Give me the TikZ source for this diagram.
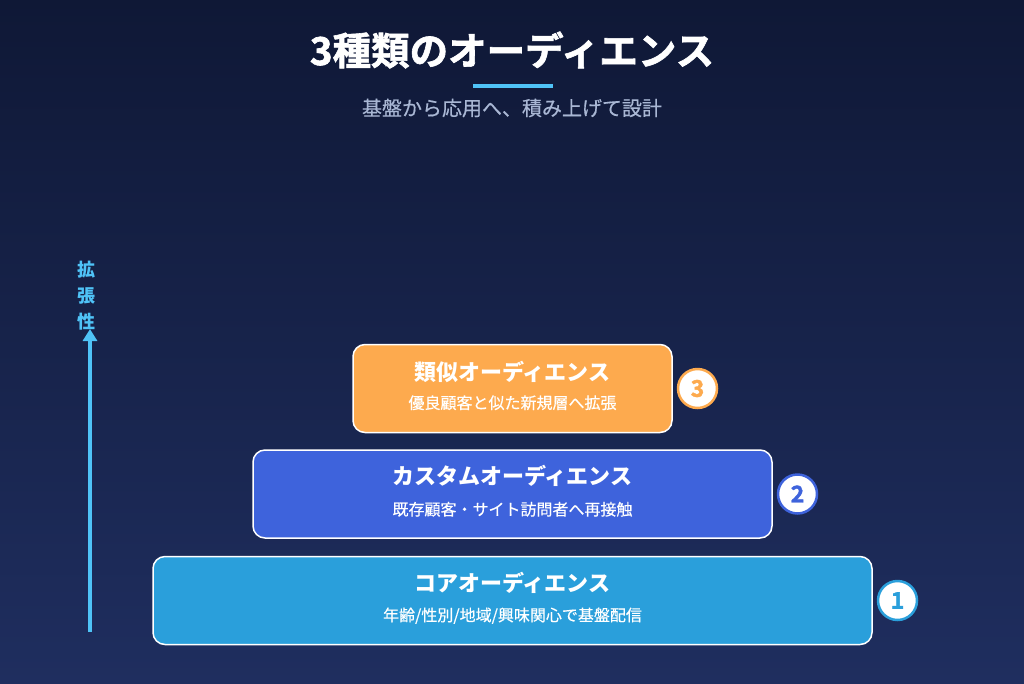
\documentclass[tikz,border=0pt]{standalone}
\usepackage{fontspec}
\setmainfont{Noto Sans CJK JP}
\newfontfamily\heavyfont{Noto Sans CJK JP}[UprightFont=* Bold, UprightFeatures={FakeBold=1.6}]
\newfontfamily\mediumfont{Noto Sans CJK JP}[UprightFeatures={FakeBold=0.5}]
\usetikzlibrary{positioning, arrows.meta}
\definecolor{bgtop}{HTML}{0F1836}
\definecolor{bgbottom}{HTML}{1F2E5F}
\definecolor{accent}{HTML}{4FC3F7}
\definecolor{subgray}{HTML}{A9B7D4}
\definecolor{coreblue}{HTML}{2A9FDB}
\definecolor{customblue}{HTML}{3E63DC}
\definecolor{similarorange}{HTML}{FDAA4E}
\tikzset{
x=1pt, y=-1pt, % one unit is one pixel of the reference, y runs downwards
level/.style={draw=white, line width=1.5pt, rounded corners=12pt, minimum height=88pt, inner sep=0pt}, % one box of the pyramid
leveltitle/.style={text=white, font=\fontsize{22}{24}\selectfont\bfseries}, % name of the audience
levelnote/.style={text=white, font=\fontsize{16}{18}\mediumfont}, % short description
badge/.style={circle, fill=white, draw=#1, line width=2.5pt, minimum size=39pt, inner sep=0pt, text=#1, font=\fontsize{23}{24}\heavyfont}, % step number
}
\begin{document}
\begin{tikzpicture}
    \shade[top color=bgtop, bottom color=bgbottom] (0,0) rectangle (1024,683);
    \useasboundingbox (0,0) rectangle (1024,683);
    % heading
    \node[text=white, font=\fontsize{38.5}{42}\heavyfont] (title) at (512,50) {3種類のオーディエンス};
    \node[fill=accent, minimum width=80pt, minimum height=4pt, inner sep=0pt] (rule) at (512.5,86) {};
    \node[text=subgray, font=\fontsize{20}{22}\mediumfont] (subtitle) at (512,108) {基盤から応用へ、積み上げて設計};
    % pyramid of audiences
    \node[level, fill=coreblue, minimum width=719pt] (core) at (512.5,600.5) {};
    \node[level, fill=customblue, minimum width=519pt, above=17pt of core] (custom) {};
    \node[level, fill=similarorange, minimum width=319pt, above=16pt of custom] (similar) {};
    \node[leveltitle] (coretitle) at ([yshift=-27pt]core.north) {コアオーディエンス};
    \node[levelnote] (corenote) at ([yshift=-60pt]core.north) {年齢/性別/地域/興味関心で基盤配信};
    \node[leveltitle] (customtitle) at ([yshift=-27pt]custom.north) {カスタムオーディエンス};
    \node[levelnote] (customnote) at ([yshift=-60pt]custom.north) {既存顧客・サイト訪問者へ再接触};
    \node[leveltitle] (similartitle) at ([yshift=-28pt]similar.north) {類似オーディエンス};
    \node[levelnote] (similarnote) at ([yshift=-59pt]similar.north) {優良顧客と似た新規層へ拡張};
    % step numbers
    \node[badge=coreblue, right=4pt of core] (one) {1};
    \node[badge=customblue, right=4pt of custom] (two) {2};
    \node[badge=similarorange, right=4pt of similar] (three) {3};
    % scalability axis
    \coordinate (axisbottom) at (90,632);
    \coordinate (axistop) at (90,329);
    \draw[accent, line width=4pt, -{Triangle[length=12pt, width=14pt]}] (axisbottom) -- (axistop);
    \node[text=accent, align=center, font=\fontsize{18}{26}\selectfont\bfseries] (axislabel) at (86,296) {拡\\張\\性};
\end{tikzpicture}
\end{document}
